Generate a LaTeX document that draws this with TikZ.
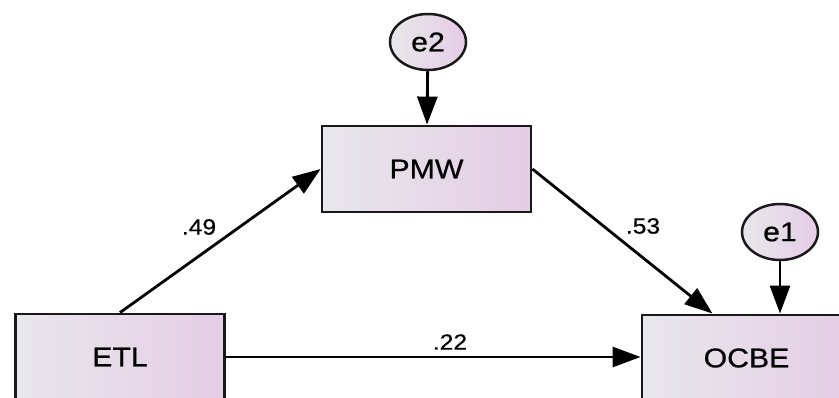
\documentclass[tikz,border=0pt]{standalone}
\usepackage{fontspec}
\setmainfont[FakeStretch=1.12,FakeBold=0.6]{Liberation Sans}
\usetikzlibrary{arrows.meta,positioning,shapes.geometric}

\begin{document}
\begin{tikzpicture}[x=1pt,y=1pt]
% styles for the path model
\tikzset{obs/.style={draw=black!90, line width=2.8pt, rectangle, minimum width=209pt, minimum height=86pt, left color=blue!8!gray!17, right color=violet!20, font=\fontsize{27}{27}\selectfont}}
\tikzset{err/.style={draw=black!90, line width=2.5pt, ellipse, inner sep=0pt, minimum width=76pt, minimum height=56pt, left color=blue!8!gray!17, right color=violet!20, font=\fontsize{27}{27}\selectfont}}
\tikzset{link/.style={line width=2.8pt, -{Triangle[length=28pt,width=20pt]}}}
\tikzset{coef/.style={font=\fontsize{22}{22}\selectfont}}
\useasboundingbox (0,0) rectangle (839,-398);

\node[obs] (PMW) at (426.5,-169) {PMW};
\node[obs] (ETL) at (120,-357) {ETL};
\node[obs] (OCBE) at (746.5,-358) {OCBE};
\node[err] (e2) at (428,-42) {e2};
\node[err] (e1) at (780,-232) {e1};

\draw[link] (e2) -- (PMW);
\draw[link] (e1.south) -- (e1.south |- OCBE.north);
\draw[link] (ETL.north) -- (PMW.west);
\draw[link] (PMW.east) -- ([xshift=-34pt]OCBE.north);
\draw[link] (ETL.east) -- (OCBE.west |- ETL.east);

\node[coef] (c49) at (199,-227) {.49};
\node[coef] (c53) at (643,-226) {.53};
\node[coef] (c22) at (450,-342) {.22};
\end{tikzpicture}
\end{document}
